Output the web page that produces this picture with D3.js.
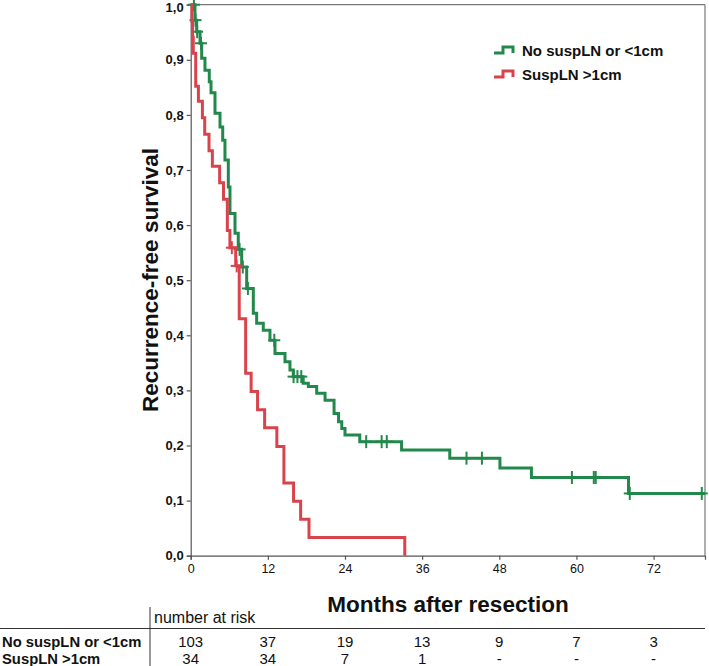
<!DOCTYPE html>
<html><head><meta charset="utf-8">
<script src="https://cdn.jsdelivr.net/npm/d3@7"></script>
<style>body{margin:0;background:#fff}svg{display:block}</style>
</head><body><svg id="c" width="709" height="666"></svg>
<script>
// ---- data ----
const greenTimes = [0, 0.25, 0.67, 0.93, 1.45, 1.71, 2.22, 2.89, 3.16, 3.78, 4.56, 4.98, 5.33, 5.85, 6.11, 6.89, 7.4, 7.93, 8.71, 9.74, 10.26, 11.29, 12.33, 13.11, 14.67, 15.44, 15.96, 17.5, 18.3, 19.6, 20.9, 22.3, 23.0, 23.5, 24.0, 26.3, 32.8, 40.3, 48.1, 53.0, 68.1, 80];
const greenSurv  = [1, 1, 0.972, 0.951, 0.930, 0.903, 0.881, 0.860, 0.840, 0.803, 0.778, 0.754, 0.718, 0.669, 0.621, 0.585, 0.556, 0.524, 0.485, 0.440, 0.422, 0.409, 0.391, 0.367, 0.352, 0.337, 0.325, 0.313, 0.307, 0.295, 0.282, 0.258, 0.243, 0.231, 0.219, 0.207, 0.192, 0.177, 0.159, 0.142, 0.113, 0.113];
const greenCensor = [0.5, 0.75, 1.0, 1.6, 7.6, 8.1, 8.9, 13.0, 16.0, 16.6, 17.2, 27.3, 29.7, 30.5, 42.9, 45.3, 59.3, 62.7, 63.0, 68.3, 79.5];
const redTimes = [0, 0.2, 0.3, 0.4, 0.78, 1.2, 1.82, 2.18, 2.85, 3.37, 4.5, 5.1, 5.7, 6.1, 7.0, 7.55, 8.55, 9.4, 10.4, 11.5, 13.4, 14.5, 16.0, 17.1, 18.4, 33.3];
const redSurv  = [1, 0.970, 0.941, 0.912, 0.852, 0.825, 0.795, 0.765, 0.735, 0.707, 0.677, 0.647, 0.590, 0.559, 0.526, 0.430, 0.331, 0.298, 0.265, 0.232, 0.198, 0.132, 0.099, 0.066, 0.033, 0];
const redCensor = [6.4, 7.15];
const xTicks = [0, 12, 24, 36, 48, 60, 72];
const yTicks = [0, 0.1, 0.2, 0.3, 0.4, 0.5, 0.6, 0.7, 0.8, 0.9, 1.0];
const groups = ["No suspLN or <1cm", "SuspLN >1cm"];
const riskGreen = ["103", "37", "19", "13", "9", "7", "3"];
const riskRed = ["34", "34", "7", "1", "-", "-", "-"];
const colors = ["#22884b", "#d8434c"];

// ---- chart ----
const FONT = "Liberation Sans, Arial, sans-serif";
const svg = d3.select("#c");
svg.append("rect").attr("width", 709).attr("height", 666).attr("fill", "#fff");
const x = d3.scaleLinear().domain([0, 80]).range([190.7, 705]);
const y = d3.scaleLinear().domain([0, 1]).range([555.7, 4.7]);

// frame
svg.append("line").attr("x1", x(0)).attr("x2", x(80)).attr("y1", y(1)).attr("y2", y(1)).attr("stroke", "#777").attr("stroke-width", 1.2);
svg.append("line").attr("x1", x(80)).attr("x2", x(80)).attr("y1", y(1)).attr("y2", y(0)).attr("stroke", "#777").attr("stroke-width", 1.2);

const fmt = d => d3.format(".1f")(d).replace(".", ",");
const yAxis = svg.append("g").attr("transform", `translate(${x(0)},0)`)
  .call(d3.axisLeft(y).tickValues(yTicks).tickFormat(fmt).tickSize(4).tickPadding(3));
yAxis.selectAll("text").attr("font-family", FONT).attr("font-size", 13).attr("font-weight", "bold").attr("fill", "#111");
yAxis.selectAll(".tick").filter(d => d === 1).select("text").attr("dy", "0.55em");
const xAxis = svg.append("g").attr("transform", `translate(0,${y(0)})`)
  .call(d3.axisBottom(x).tickValues(xTicks).tickFormat(d3.format("d")).tickSize(4).tickPadding(4));
xAxis.selectAll("text").attr("font-family", FONT).attr("font-size", 12.5).attr("fill", "#111");
[yAxis, xAxis].forEach(a => { a.selectAll("path,line").attr("stroke", "#555").attr("stroke-width", 1.2); });

// curves
const line = d3.line().x(d => x(d[0])).y(d => y(d[1])).curve(d3.curveStepAfter);
function stepAt(times, surv, t) {
  let s = surv[0];
  for (let i = 0; i < times.length; i++) { if (times[i] <= t) s = surv[i]; }
  return s;
}
function drawCurve(times, surv, censor, color) {
  const pts = times.map((t, i) => [t, surv[i]]);
  svg.append("path").attr("d", line(pts)).attr("fill", "none").attr("stroke", color).attr("stroke-width", 3);
  const g = svg.append("g").attr("stroke", color).attr("stroke-width", 2);
  censor.forEach(t => {
    const cx = x(t), cy = y(stepAt(times, surv, t));
    g.append("line").attr("x1", cx).attr("x2", cx).attr("y1", cy - 6.5).attr("y2", cy + 6.5);
    g.append("line").attr("x1", cx - 6).attr("x2", cx + 6).attr("y1", cy).attr("y2", cy);
  });
}
drawCurve(greenTimes, greenSurv, greenCensor, colors[0]);
drawCurve(redTimes, redSurv, redCensor, colors[1]);

// axis titles
svg.append("text").attr("transform", "translate(158,280) rotate(-90)").attr("text-anchor", "middle")
  .attr("font-family", FONT).attr("font-weight", "bold").attr("font-size", 22.5).attr("fill", "#111")
  .text("Recurrence-free survival");
svg.append("text").attr("x", 448).attr("y", 612).attr("text-anchor", "middle")
  .attr("font-family", FONT).attr("font-weight", "bold").attr("font-size", 22.5).attr("fill", "#111")
  .text("Months after resection");

// legend
groups.forEach((name, i) => {
  const ly = 51 + i * 24;
  const lx = 494;
  svg.append("path").attr("d", `M${lx},${ly + 2}H${lx + 9}V${ly - 4}H${lx + 19}V${ly + 2}`)
    .attr("fill", "none").attr("stroke", colors[i]).attr("stroke-width", 3);
  svg.append("text").attr("x", 522).attr("y", ly + 5).attr("font-family", FONT)
    .attr("font-weight", "bold").attr("font-size", 15).attr("fill", "#111").text(name);
});

// risk table
svg.append("line").attr("x1", 150).attr("x2", 150).attr("y1", 607).attr("y2", 666).attr("stroke", "#333").attr("stroke-width", 1);
svg.append("line").attr("x1", 0).attr("x2", 705).attr("y1", 628.5).attr("y2", 628.5).attr("stroke", "#333").attr("stroke-width", 1);
svg.append("text").attr("x", 154).attr("y", 623).attr("font-family", FONT)
  .attr("font-size", 16).attr("fill", "#111").text("number at risk");
[riskGreen, riskRed].forEach((row, r) => {
  const ry = 646.5 + r * 17;
  svg.append("text").attr("x", 2).attr("y", ry).attr("font-family", FONT)
    .attr("font-weight", "bold").attr("font-size", 14.8).attr("fill", "#111").text(groups[r]);
  row.forEach((v, i) => {
    svg.append("text").attr("x", x(xTicks[i])).attr("y", ry).attr("text-anchor", "middle")
      .attr("font-family", FONT).attr("font-size", 15).attr("fill", "#111").text(v);
  });
});
</script></body></html>
